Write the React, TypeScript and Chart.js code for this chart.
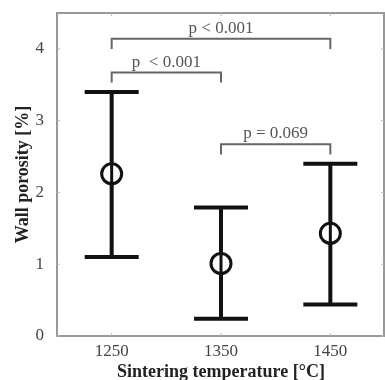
import React, { useEffect, useRef } from 'react';
import { Chart, registerables } from 'chart.js';

Chart.register(...registerables);

const categories = ['1250', '1350', '1450'];
const meanValues = [2.26, 1.01, 1.43];
const upperValues = [3.4, 1.79, 2.4];
const lowerValues = [1.1, 0.24, 0.44];

const bracketFrom = [0, 0, 1];
const bracketTo = [2, 1, 2];
const bracketLevels = [4.14, 3.67, 2.67];
const bracketDrop = 0.14;
const bracketLabels = ['p < 0.001', 'p  < 0.001', 'p = 0.069'];

const yMin = 0;
const yMax = 4.5;
const yStep = 1;
const yTickMax = 4;

const serif = '"Liberation Serif", "DejaVu Serif", serif';

const errorBarPlugin = {
  id: 'errorBars',
  afterDatasetsDraw(chart: any) {
    const { ctx, scales } = chart;
    const x = scales.x;
    const y = scales.y;
    ctx.save();
    ctx.strokeStyle = '#111';
    ctx.lineCap = 'butt';
    categories.forEach((_, i) => {
      const px = x.getPixelForValue(i);
      const pu = y.getPixelForValue(upperValues[i]);
      const pl = y.getPixelForValue(lowerValues[i]);
      const pm = y.getPixelForValue(meanValues[i]);
      const half = 27;
      ctx.lineWidth = 4;
      ctx.beginPath();
      ctx.moveTo(px, pu);
      ctx.lineTo(px, pm - 10);
      ctx.moveTo(px, pm + 10);
      ctx.lineTo(px, pl);
      ctx.moveTo(px - half, pu);
      ctx.lineTo(px + half, pu);
      ctx.moveTo(px - half, pl);
      ctx.lineTo(px + half, pl);
      ctx.stroke();
      ctx.lineWidth = 3;
      ctx.beginPath();
      ctx.moveTo(px, pm - 10);
      ctx.lineTo(px, pm + 10);
      ctx.stroke();
    });

    ctx.strokeStyle = '#666';
    ctx.lineWidth = 2;
    ctx.fillStyle = '#555';
    ctx.font = '17px ' + serif;
    ctx.textAlign = 'center';
    ctx.textBaseline = 'bottom';
    bracketLevels.forEach((lvl, i) => {
      const x1 = x.getPixelForValue(bracketFrom[i]);
      const x2 = x.getPixelForValue(bracketTo[i]);
      const py = y.getPixelForValue(lvl);
      const pd = y.getPixelForValue(lvl - bracketDrop);
      ctx.beginPath();
      ctx.moveTo(x1, pd);
      ctx.lineTo(x1, py);
      ctx.lineTo(x2, py);
      ctx.lineTo(x2, pd);
      ctx.stroke();
      ctx.fillText(bracketLabels[i], (x1 + x2) / 2, py - 2);
    });

    const a = chart.chartArea;
    ctx.strokeStyle = '#999';
    ctx.lineWidth = 2;
    ctx.strokeRect(a.left, a.top, a.right - a.left - 1, a.bottom - a.top);
    ctx.strokeStyle = '#bbb';
    ctx.lineWidth = 1;
    ctx.beginPath();
    categories.forEach((_, i) => {
      const px = x.getPixelForValue(i);
      ctx.moveTo(px, a.bottom);
      ctx.lineTo(px, a.bottom - 3);
      ctx.moveTo(px, a.top);
      ctx.lineTo(px, a.top + 3);
    });
    for (let v = yMin; v <= yTickMax; v += yStep) {
      const py = y.getPixelForValue(v);
      ctx.moveTo(a.left, py);
      ctx.lineTo(a.left + 3, py);
      ctx.moveTo(a.right - 1, py);
      ctx.lineTo(a.right - 4, py);
    }
    ctx.stroke();
    ctx.restore();
  },
};

export default function App() {
  const ref = useRef<HTMLCanvasElement>(null);
  useEffect(() => {
    document.body.style.margin = '0';
    const chart = new Chart(ref.current as HTMLCanvasElement, {
      type: 'line',
      data: {
        labels: categories,
        datasets: [
          {
            data: meanValues,
            showLine: false,
            pointStyle: 'circle',
            pointRadius: 10,
            pointBorderWidth: 3,
            pointBorderColor: '#111',
            pointBackgroundColor: 'rgba(0,0,0,0)',
            clip: false,
          },
        ],
      },
      options: {
        animation: false,
        responsive: false,
        layout: { autoPadding: false, padding: { left: 0, top: 13, right: 0, bottom: 0 } },
        plugins: { legend: { display: false }, tooltip: { enabled: false } },
        scales: {
          x: {
            type: 'category',
            offset: true,
            grid: { display: false, drawTicks: false },
            border: { display: false },
            ticks: { color: '#444', font: { family: serif, size: 17 }, padding: 5 },
            title: {
              display: true,
              text: 'Sintering temperature [°C]',
              color: '#222',
              font: { family: serif, size: 18, weight: 'bold', lineHeight: 0.9 },
              padding: { top: 0, bottom: 0 },
            },
            afterFit: (s: any) => {
              s.height = 44;
              s.paddingLeft = 0;
              s.paddingRight = 0;
            },
          },
          y: {
            min: yMin,
            max: yMax,
            grid: { display: false, drawTicks: false },
            border: { display: false },
            afterBuildTicks: (s: any) => {
              s.ticks = s.ticks.filter((t: any) => t.value <= yTickMax);
            },
            ticks: {
              stepSize: yStep,
              color: '#444',
              font: { family: serif, size: 17 },
              padding: 13,
            },
            title: {
              display: true,
              text: 'Wall porosity [%]',
              color: '#222',
              font: { family: serif, size: 18, weight: 'bold' },
              padding: { top: 13, bottom: 0 },
            },
            afterFit: (s: any) => {
              s.width = 57;
              s.paddingTop = 0;
              s.paddingBottom = 0;
            },
          },
        },
      },
      plugins: [errorBarPlugin],
    });
    return () => chart.destroy();
  }, []);
  return <canvas ref={ref} width={385} height={380} style={{ display: 'block' }} />;
}
